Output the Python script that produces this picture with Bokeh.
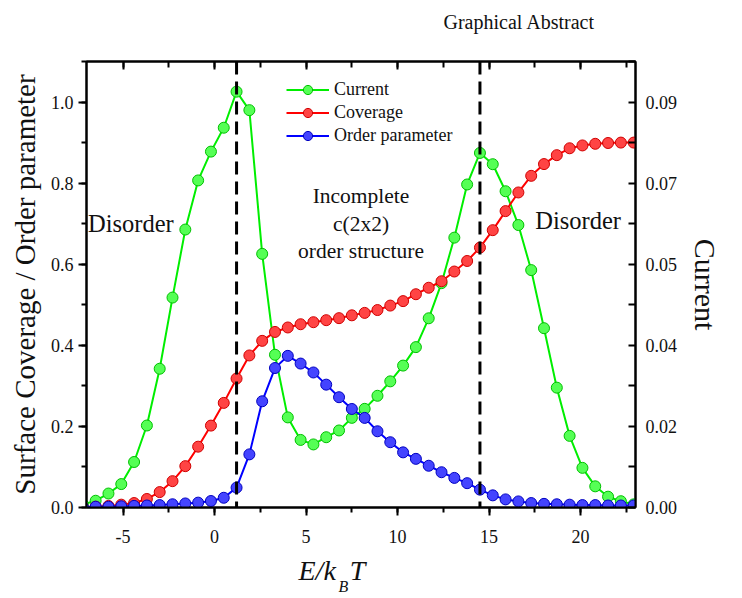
from bokeh.plotting import figure
from bokeh.models import (LinearAxis, Range1d, Span, Label, Legend, LegendItem, Title,
                          FixedTicker, SingleIntervalTicker, PrintfTickFormatter)
from bokeh.embed import file_html
from bokeh.resources import INLINE

# ---------------- data ----------------
energy = [-7.2, -6.5, -5.8, -5.1, -4.4, -3.7, -3.0, -2.3, -1.6, -0.9, -0.2, 0.5,
          1.2, 1.9, 2.6, 3.3, 4.0, 4.7, 5.4, 6.1, 6.8, 7.5, 8.2, 8.9, 9.6, 10.3,
          11.0, 11.7, 12.4, 13.1, 13.8, 14.5, 15.2, 15.9, 16.6, 17.3, 18.0, 18.7,
          19.4, 20.1, 20.8, 21.5, 22.2, 22.9]
current = [0.0007, 0.0015, 0.0031, 0.0052, 0.0101, 0.0182, 0.0308, 0.0466, 0.0617,
           0.0726, 0.0790, 0.0843, 0.0923, 0.0882, 0.0563, 0.0339, 0.0200, 0.0150,
           0.0140, 0.0156, 0.0171, 0.0199, 0.0219, 0.0248, 0.0280, 0.0315, 0.0356,
           0.0420, 0.0498, 0.0599, 0.0717, 0.0787, 0.0762, 0.0702, 0.0627, 0.0527,
           0.0398, 0.0266, 0.0159, 0.0088, 0.0047, 0.0024, 0.0014, 0.0007]
coverage = [0.001, 0.002, 0.004, 0.007, 0.011, 0.021, 0.038, 0.065, 0.102, 0.150,
            0.202, 0.258, 0.318, 0.375, 0.411, 0.433, 0.444, 0.452, 0.457, 0.462,
            0.467, 0.474, 0.480, 0.487, 0.498, 0.509, 0.526, 0.542, 0.558, 0.582,
            0.608, 0.641, 0.684, 0.731, 0.777, 0.818, 0.847, 0.869, 0.886, 0.893,
            0.897, 0.899, 0.900, 0.900]
order_param = [0.001, 0.002, 0.002, 0.003, 0.004, 0.005, 0.006, 0.008, 0.010, 0.012,
               0.016, 0.024, 0.049, 0.131, 0.262, 0.344, 0.374, 0.355, 0.333, 0.303,
               0.272, 0.243, 0.221, 0.188, 0.161, 0.136, 0.120, 0.103, 0.087, 0.073,
               0.060, 0.044, 0.030, 0.020, 0.015, 0.011, 0.009, 0.008, 0.007, 0.006,
               0.006, 0.005, 0.005, 0.005]
transition_lines = [1.2, 14.5]

x_ticks = [-5, 0, 5, 10, 15, 20]
x_tick_labels = ["-5", "0", "5", "10", "15", "20"]
right_ticks = [0.0, 0.018, 0.036, 0.054, 0.072, 0.09]
right_tick_labels = ["0.00", "0.02", "0.04", "0.05", "0.07", "0.09"]
right_minor = [0.009, 0.027, 0.045, 0.063, 0.081, 0.099]

FONT = "Liberation Serif"
TXT = "#111111"

p = figure(frame_width=549, frame_height=446, output_backend="svg", toolbar_location=None,
           x_range=Range1d(-7, 23), y_range=Range1d(0, 1.1),
           min_border_left=86, min_border_right=107, min_border_top=61,
           min_border_bottom=91)
p.extra_y_ranges = {"cur": Range1d(0, 0.099)}
p.xgrid.visible = False
p.ygrid.visible = False
p.outline_line_color = "black"
p.outline_line_width = 2
p.background_fill_color = "white"
p.border_fill_color = "white"

p.title.text = "Graphical  Abstract"
p.title.align = "left"
p.title.offset = 357
p.title.text_font = FONT
p.title.text_font_size = "20px"
p.title.text_font_style = "normal"
p.title.text_color = TXT

# axes
xa = p.xaxis[0]
xa.ticker = SingleIntervalTicker(interval=5, num_minor_ticks=2)
xa.major_label_overrides = {t: s for t, s in zip(x_ticks, x_tick_labels)}
ya = p.yaxis[0]
ya.ticker = SingleIntervalTicker(interval=0.2, num_minor_ticks=2)
ya.formatter = PrintfTickFormatter(format="%.1f")
ya.axis_label = "Surface Coverage / Order parameter"
for ax in (xa, ya):
    ax.axis_line_width = 2
    ax.major_tick_line_width = 2
    ax.minor_tick_line_width = 2
    ax.major_tick_out = 8
    ax.major_tick_in = 0
    ax.minor_tick_out = 5
    ax.minor_tick_in = 0
    ax.major_label_text_font = FONT
    ax.major_label_text_font_size = "18px"
    ax.major_label_text_color = TXT
    ax.axis_label_text_font = FONT
    ax.axis_label_text_font_size = "29px"
    ax.axis_label_text_font_style = "normal"
    ax.axis_label_text_color = TXT
xa.major_label_standoff = 14
ya.major_label_standoff = 5
ya.axis_label_standoff = 7

# top axis: ticks only (blank labels just reserve room under the title)
top = LinearAxis(ticker=SingleIntervalTicker(interval=5, num_minor_ticks=2))
top.major_label_overrides = {t: " " for t in x_ticks}
top.major_label_text_font_size = "16px"
top.major_label_standoff = 4
top.axis_line_width = 2
top.major_tick_line_width = 2
top.minor_tick_line_width = 2
top.major_tick_in = 8
top.major_tick_out = 0
top.minor_tick_in = 6
top.minor_tick_out = 0
p.add_layout(top, "above")

right = LinearAxis(y_range_name="cur",
                   ticker=FixedTicker(ticks=right_ticks, minor_ticks=right_minor),
                   major_label_overrides={t: s for t, s in zip(right_ticks, right_tick_labels)})
right.axis_label = "Current"
right.axis_line_width = 2
right.major_tick_line_width = 2
right.minor_tick_line_width = 2
right.major_tick_in = 7
right.major_tick_out = 0
right.minor_tick_in = 7
right.minor_tick_out = 0
right.major_label_standoff = 10
right.major_label_text_font = FONT
right.major_label_text_font_size = "18px"
right.major_label_text_color = TXT
right.axis_label_text_font = FONT
right.axis_label_text_font_size = "30px"
right.axis_label_text_font_style = "normal"
right.axis_label_text_color = TXT
right.axis_label_standoff = 9
p.add_layout(right, "right")

# dashed lines
for xv in transition_lines:
    p.add_layout(Span(location=xv, dimension="height", line_color="black",
                      line_width=3, line_dash="13 7"))

# series
g_l = p.line(energy, current, y_range_name="cur", line_color="#00ee00", line_width=2)
g_s = p.scatter(energy, current, y_range_name="cur", size=11, fill_color="#55ff55",
                line_color="#00c000", line_width=1)
r_l = p.line(energy, coverage, line_color="#ff0000", line_width=2)
r_s = p.scatter(energy, coverage, size=11, fill_color="#ff4444", line_color="#d00000",
                line_width=1)
b_l = p.line(energy, order_param, line_color="#0000ff", line_width=2)
b_s = p.scatter(energy, order_param, size=11, fill_color="#4444ff", line_color="#0000c0",
                line_width=1)

legend = Legend(items=[LegendItem(label="Current", renderers=[g_l, g_s]),
                       LegendItem(label="Coverage", renderers=[r_l, r_s]),
                       LegendItem(label="Order parameter", renderers=[b_l, b_s])],
                location=(200, 360), padding=0, margin=0, spacing=0,
                glyph_width=43, glyph_height=23, label_height=23,
                label_standoff=5, border_line_color=None,
                background_fill_alpha=0,
                label_text_font=FONT, label_text_font_size="18px",
                label_text_color=TXT)
p.add_layout(legend)

# annotations inside the frame
def add_text(x, y, t, size="20px", align="left", baseline="middle", style="normal"):
    p.add_layout(Label(x=x, y=y, text=t, text_font=FONT, text_font_size=size,
                       text_align=align, text_baseline=baseline,
                       text_font_style=style, text_color=TXT))

add_text(-6.92, 0.700, "Disorder", "24.5px")
add_text(17.52, 0.707, "Disorder", "24.5px")
add_text(8.0, 0.768, "Incomplete", "21.5px", "center")
add_text(8.0, 0.700, "c(2x2)", "21.5px", "center")
add_text(8.0, 0.633, "order structure", "21.5px", "center")

# x axis label  E/k_B T  (main part, then the subscript pulled up beside it)
p.add_layout(Title(text="E/k\u00a0\u00a0T", align="left", offset=212, standoff=15,
                   vertical_align="bottom", text_font=FONT, text_font_size="28px",
                   text_font_style="italic", text_color=TXT), "below")
p.add_layout(Title(text="B", align="left", offset=252, standoff=-32,
                   vertical_align="top", text_font=FONT, text_font_size="16px",
                   text_font_style="italic", text_color=TXT), "below")

open("out.html", "w").write(file_html(p, INLINE))
